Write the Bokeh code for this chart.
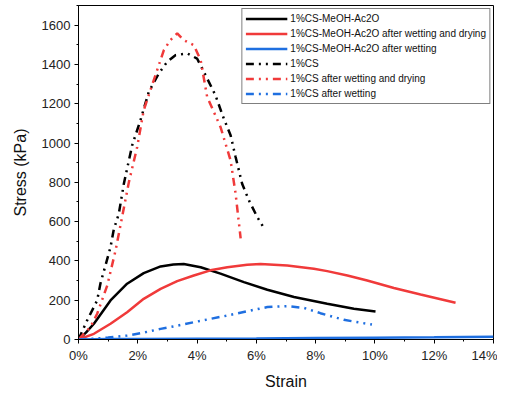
from bokeh.plotting import figure
from bokeh.models import Range1d, PrintfTickFormatter, FixedTicker, Legend, LegendItem
from bokeh.embed import file_html
from bokeh.resources import INLINE

# Strain in %, stress in kPa
ac_strain = [0, 0.25, 0.52, 1.08, 1.64, 2.2, 2.77, 3.2, 3.55, 4.12, 4.79, 5.58, 6.37, 7.27, 8.39, 9.29, 10.02]
ac_stress = [0, 35, 80, 199, 284, 338, 372, 382, 384, 368, 335, 292, 253, 216, 182, 156, 143]

acwd_strain = [0, 0.52, 1.08, 1.64, 2.2, 2.77, 3.33, 3.89, 4.45, 5.02, 5.69, 6.14, 7.04, 7.94, 8.39, 9.07, 9.74, 10.64, 11.54, 12.72]
acwd_stress = [0, 29, 80, 139, 207, 258, 297, 326, 352, 368, 380, 384, 377, 360, 348, 326, 300, 262, 229, 187]

acw_strain = [0, 1, 2, 4, 6, 8, 10, 12, 14]
acw_stress = [0, 2, 3, 4, 5, 7, 9, 11, 14]

cs_strain = [0, 0.29, 0.63, 0.74, 1.08, 1.19, 1.36, 1.53, 1.81, 2.09, 2.37, 2.71, 2.99, 3.27, 3.67, 4.0, 4.23, 4.62, 4.9, 5.13, 5.3, 5.52, 5.75, 6.03, 6.24]
cs_stress = [0, 97, 199, 285, 470, 560, 640, 793, 988, 1116, 1260, 1354, 1413, 1447, 1456, 1430, 1362, 1243, 1125, 1040, 929, 793, 708, 623, 571]

cswd_strain = [0, 0.4, 0.63, 0.97, 1.25, 1.47, 1.7, 1.98, 2.2, 2.54, 2.88, 3.1, 3.33, 3.55, 3.89, 4.12, 4.34, 4.79, 5.13, 5.3, 5.47]
cswd_stress = [0, 63, 131, 275, 453, 623, 801, 980, 1167, 1320, 1473, 1524, 1558, 1524, 1498, 1422, 1235, 1082, 912, 742, 515]

csw_strain = [0, 0.5, 1.0, 1.64, 2.2, 2.77, 3.33, 3.89, 4.45, 5.02, 5.69, 6.37, 7.04, 7.6, 8.16, 8.95, 9.9]
csw_stress = [0, 4, 10, 20, 35, 54, 70, 88, 105, 122, 144, 165, 170, 161, 134, 100, 76]

x_ticks = [0, 2, 4, 6, 8, 10, 12, 14]
y_ticks = [0, 200, 400, 600, 800, 1000, 1200, 1400, 1600]

labels = ["1%CS-MeOH-Ac2O", "1%CS-MeOH-Ac2O after wetting and drying", "1%CS-MeOH-Ac2O after wetting",
          "1%CS", "1%CS after wetting and drying", "1%CS after wetting"]

FONT = "Liberation Sans"
BLACK = "#000000"
RED = "#F03A3A"
BLUE = "#1F6FE0"
DASH = "8 5 2 5 2 5"

p = figure(width=497, height=392, output_backend="svg", toolbar_location=None,
           x_range=Range1d(0, 14), y_range=Range1d(0, 1700),
           min_border_left=78, min_border_right=4, min_border_top=5, min_border_bottom=53)
p.grid.visible = False
p.outline_line_color = "#000000"
p.outline_line_width = 1

r1 = p.line(ac_strain, ac_stress, line_color=BLACK, line_width=2.5)
r2 = p.line(acwd_strain, acwd_stress, line_color=RED, line_width=2.5)
r3 = p.line(acw_strain, acw_stress, line_color=BLUE, line_width=2.5)
r4 = p.line(cs_strain, cs_stress, line_color=BLACK, line_width=2.5, line_dash=DASH)
r5 = p.line(cswd_strain, cswd_stress, line_color=RED, line_width=2.5, line_dash=DASH)
r6 = p.line(csw_strain, csw_stress, line_color=BLUE, line_width=2.5, line_dash=DASH)

for ax in (p.xaxis[0], p.yaxis[0]):
    ax.axis_line_color = "#000000"
    ax.axis_line_width = 1
    ax.major_tick_line_color = "#000000"
    ax.minor_tick_line_color = "#000000"
    ax.major_tick_in = 0
    ax.major_tick_out = 4
    ax.minor_tick_in = 0
    ax.minor_tick_out = 2
    ax.major_label_text_font = FONT
    ax.major_label_text_font_size = "13px"
    ax.major_label_text_color = "#222222"
    ax.axis_label_text_font = FONT
    ax.axis_label_text_font_size = "16px"
    ax.axis_label_text_font_style = "normal"
    ax.axis_label_text_color = "#111111"

p.xaxis.ticker = FixedTicker(ticks=x_ticks, minor_ticks=list(range(0, 15)))
p.yaxis.ticker = FixedTicker(ticks=y_ticks, minor_ticks=list(range(0, 1701, 100)))
p.xaxis.formatter = PrintfTickFormatter(format="%d%%")
p.xaxis.axis_label = "Strain"
p.yaxis.axis_label = "Stress (kPa)"
p.xaxis.major_label_standoff = 4
p.yaxis.major_label_standoff = 4
p.xaxis.axis_label_standoff = 7
p.yaxis.axis_label_standoff = 10

legend = Legend(items=[LegendItem(label=l, renderers=[r]) for l, r in zip(labels, [r1, r2, r3, r4, r5, r6])],
                location="top_right", margin=3, padding=3, spacing=2,
                label_text_font=FONT, label_text_font_size="10px", label_text_color="#111111",
                label_height=13, glyph_height=13, glyph_width=42, label_standoff=3,
                border_line_color="#000000", border_line_width=1, background_fill_alpha=1)
p.add_layout(legend)

open("out.html", "w").write(file_html(p, INLINE))
